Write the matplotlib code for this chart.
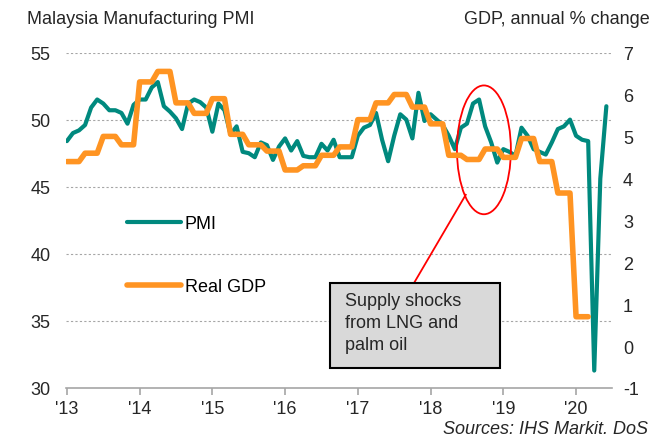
import numpy as np
import matplotlib
matplotlib.use("Agg")
import matplotlib.pyplot as plt
from matplotlib.patches import Ellipse, Rectangle

# Monthly manufacturing PMI, Jan 2013 - Jun 2020
pmi_2013 = [48.4, 49.0, 49.2, 49.6, 50.9, 51.5, 51.2, 50.7, 50.7, 50.5, 49.7, 51.1]
pmi_2014 = [51.5, 51.5, 52.4, 52.8, 51.0, 50.6, 50.1, 49.3, 51.2, 51.5, 51.3, 50.9]
pmi_2015 = [49.1, 51.2, 50.7, 48.9, 49.5, 47.6, 47.5, 47.2, 48.3, 48.1, 47.0, 48.0]
pmi_2016 = [48.6, 47.7, 48.4, 47.3, 47.2, 47.2, 48.2, 47.7, 48.5, 47.2, 47.2, 47.2]
pmi_2017 = [48.8, 49.4, 49.6, 50.5, 48.5, 46.9, 48.8, 50.4, 50.0, 48.6, 52.0, 49.9]
pmi_2018 = [50.4, 50.0, 49.6, 48.8, 47.8, 49.4, 49.7, 51.2, 51.5, 49.5, 48.3, 46.8]
pmi_2019 = [47.8, 47.6, 47.3, 49.4, 48.8, 47.8, 47.6, 47.4, 48.3, 49.3, 49.5, 50.0]
pmi_2020 = [48.8, 48.5, 48.4, 31.3, 45.6, 51.0]

# Real GDP, annual % change, Q1 2013 - Q1 2020
gdp_quarterly = [
    4.4, 4.6, 5.0, 4.8,
    6.3, 6.55, 5.8, 5.55,
    5.9, 5.05, 4.8, 4.65,
    4.2, 4.3, 4.55, 4.75,
    5.4, 5.8, 6.0, 5.7,
    5.3, 4.55, 4.45, 4.7,
    4.5, 4.95, 4.4, 3.65,
    0.7,
]

year_labels = ["'13", "'14", "'15", "'16", "'17", "'18", "'19", "'20"]

pmi = pmi_2013 + pmi_2014 + pmi_2015 + pmi_2016 + pmi_2017 + pmi_2018 + pmi_2019 + pmi_2020
pmi_x = np.arange(len(pmi))
# quarterly GDP shown against each month of its quarter
gdp = np.repeat(gdp_quarterly, 3)
gdp_x = np.arange(len(gdp))

TEAL = "#00897E"
ORANGE = "#FF9422"
TEXT = "#262626"

plt.rcParams["font.family"] = ["Liberation Sans", "DejaVu Sans"]
plt.rcParams["axes.unicode_minus"] = False

fig = plt.figure(figsize=(6.6, 4.39), dpi=100)
ax = fig.add_axes([0.0995, 0.1139, 0.8275, 0.7641])
ax2 = ax.twinx()

pmi_line, = ax.plot(pmi_x, pmi, color=TEAL, lw=3.0, solid_joinstyle="round",
                    solid_capstyle="round", label="PMI")
gdp_line, = ax2.plot(gdp_x, gdp, color=ORANGE, lw=4.0, solid_joinstyle="round",
                     solid_capstyle="round", label="Real GDP")

ax.set_xlim(-0.2, 89.9)
ax.set_ylim(30, 55)
ax2.set_ylim(-1, 7)
ax.set_yticks(np.arange(30, 56, 5))
ax2.set_yticks(np.arange(-1, 8, 1))
ax.set_xticks(np.arange(0, 85, 12))
ax.set_xticklabels(year_labels)

for gy in range(35, 56, 5):
    ax.axhline(gy, color="#A6A6A6", lw=0.8, ls=(0, (2, 2)), zorder=0)

for a in (ax, ax2):
    for side in ("top", "left", "right"):
        a.spines[side].set_visible(False)
ax2.spines["bottom"].set_visible(False)
ax.spines["bottom"].set_color("#A6A6A6")
ax.spines["bottom"].set_linewidth(1.2)

ax.tick_params(axis="x", direction="out", length=5, width=1.2, color="#A6A6A6",
               labelsize=13, labelcolor=TEXT, pad=4)
ax.tick_params(axis="y", length=0, labelsize=13, labelcolor=TEXT, pad=11)
ax2.tick_params(axis="y", length=0, labelsize=13, labelcolor=TEXT, pad=8)

# annotation: circled episode and callout box
ax.add_patch(Ellipse((68.8, 47.75), 8.9, 9.6, fill=False, ec="#FF0000", lw=1.3, zorder=5))
ax.plot([65.8, 57.3], [44.4, 37.85], color="#FF0000", lw=1.3, zorder=5)
ax.add_patch(Rectangle((43.4, 31.5), 28.1, 6.35, fc="#D9D9D9", ec="black", lw=1.5, zorder=5))
ax.text(45.9, 37.15, "Supply shocks\nfrom LNG and\npalm oil", fontsize=13, color=TEXT,
        va="top", ha="left", linespacing=1.4, zorder=6)

ax2.legend([pmi_line, gdp_line], ["PMI", "Real GDP"], loc="upper left",
           bbox_to_anchor=(0.112, 0.515), frameon=False, fontsize=13,
           handlelength=3.0, handletextpad=0.2, labelspacing=2.55,
           borderpad=0, borderaxespad=0)

fig.text(27 / 660, 1 - 20 / 439, "Malaysia Manufacturing PMI", fontsize=13,
         color=TEXT, ha="left", va="center")
fig.text(650 / 660, 1 - 20 / 439, "GDP, annual % change", fontsize=13,
         color=TEXT, ha="right", va="center")
fig.text(648 / 660, 1 - 430 / 439, "Sources: IHS Markit. DoS", fontsize=13,
         color=TEXT, ha="right", va="center", style="italic")

fig.savefig("out.png", dpi=100)
